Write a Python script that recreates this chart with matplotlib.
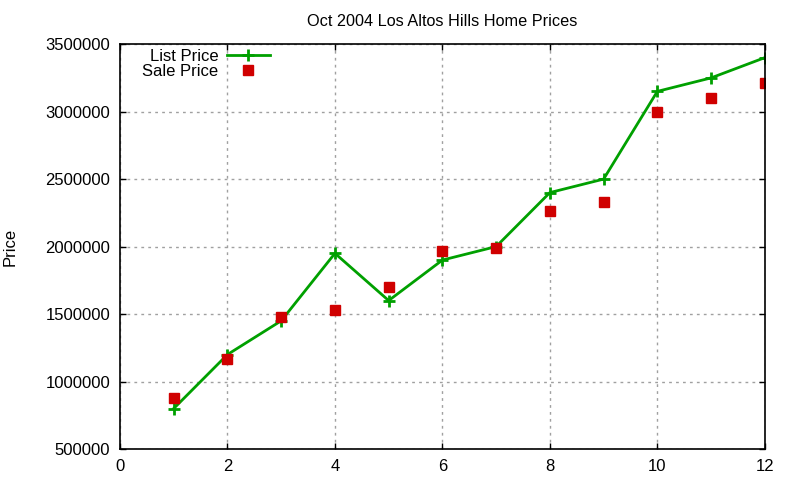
import matplotlib
matplotlib.use("Agg")
import matplotlib.pyplot as plt

months = [1, 2, 3, 4, 5, 6, 7, 8, 9, 10, 11, 12]
list_price = [800000, 1200000, 1450000, 1950000, 1600000, 1900000, 2000000,
              2400000, 2500000, 3150000, 3250000, 3400000]
sale_price = [875000, 1170000, 1480000, 1530000, 1700000, 1965000, 1990000,
              2265000, 2330000, 3000000, 3100000, 3210000]
x_ticks = [0, 2, 4, 6, 8, 10, 12]
y_ticks = [500000, 1000000, 1500000, 2000000, 2500000, 3000000, 3500000]

plt.rcParams['font.family'] = ['Liberation Sans', 'DejaVu Sans']

fig = plt.figure(figsize=(8, 4.8), dpi=100)
ax = fig.add_axes([0.15, 0.0646, 0.806, 0.8434])

ax.plot(months, list_price, color='#00a000', linewidth=2, marker='+',
        markersize=9, markeredgewidth=2, label='List Price')
ax.plot(months, sale_price, linestyle='none', color='#d00000', marker='s',
        markersize=7, label='Sale Price')

ax.set_xlim(0, 12)
ax.set_ylim(500000, 3500000)
ax.set_xticks(x_ticks)
ax.set_yticks(y_ticks)
ax.set_xticklabels([str(v) for v in x_ticks])
ax.set_yticklabels([str(v) for v in y_ticks])
ax.tick_params(direction='in', top=True, right=True, labelsize=12, length=4,
               width=1, pad=7)
ax.grid(True, color='#a0a0a0', linestyle=(0, (2, 3)), linewidth=1)
for s in ax.spines.values():
    s.set_linewidth(1.2)

ax.set_title('Oct 2004 Los Altos Hills Home Prices', fontsize=11.7, pad=13)
ax.set_ylabel('Price', fontsize=12)
ax.yaxis.set_label_coords(-0.158, 0.5)

leg = ax.legend(loc='upper left', markerfirst=False, frameon=False,
                fontsize=12, handlelength=2.6, borderaxespad=0.0,
                handletextpad=0.5, labelspacing=0.0, borderpad=0.1,
                bbox_to_anchor=(0.032, 0.993))
for t in leg.get_texts():
    t.set_ha('right')

fig.savefig('out.png', dpi=100)
